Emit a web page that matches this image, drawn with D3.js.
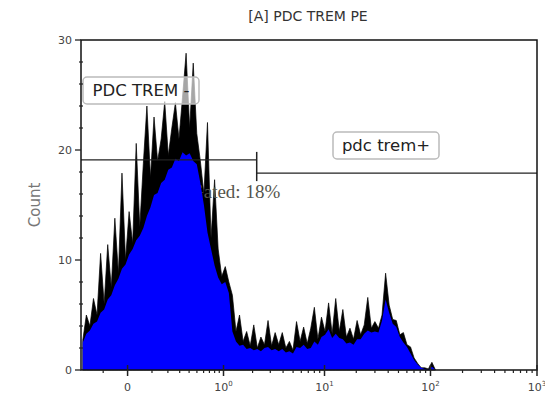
<!DOCTYPE html>
<html>
<head>
<meta charset="utf-8">
<script src="https://d3js.org/d3.v7.min.js"></script>
<style>
  body { margin: 0; background: #fff; }
  svg text { font-family: "DejaVu Sans", sans-serif; }
</style>
</head>
<body>
<div id="Chart"></div>
<script>
// histogram, 128 channels across the display range (only the filled ones listed)
var binCount = 128;
var rawCounts = [2.7, 5.0, 4.0, 6.5, 5.0, 10.6, 6.0, 11.4, 7.5, 13.8,
  8.8, 17.9, 10.0, 14.4, 11.5, 20.6, 13.0, 18.8, 24.0, 17.5,
  23.0, 19.0, 21.0, 24.4, 19.5, 22.0, 24.3, 21.0, 24.8, 28.8,
  22.0, 27.9, 21.5, 19.0, 16.0, 22.5, 12.0, 17.3, 11.0, 8.5,
  9.4, 8.0, 6.8, 3.5, 5.0, 2.6, 3.5, 2.2, 4.1, 2.0,
  3.0, 2.3, 4.5, 2.2, 3.4, 2.3, 3.4, 2.0, 2.6, 1.8,
  4.4, 2.6, 3.9, 2.4, 3.8, 5.7, 2.8, 4.8, 3.5, 6.1,
  3.3, 6.5, 3.5, 5.5, 3.0, 3.8, 2.8, 4.5, 3.2, 4.1,
  6.6, 3.8, 4.4, 3.8, 5.0, 8.8, 5.9, 4.6, 4.5, 3.2,
  3.4, 2.3, 2.1, 1.1, 0.6, 0.2, 0.2, 0.1, 0.7, 0];
var smoothCounts = [2.5, 3.3, 3.6, 4.2, 4.4, 5.2, 5.5, 6.4, 6.8, 7.7,
  8.3, 9.2, 9.6, 10.5, 11.0, 11.8, 12.2, 12.9, 14.0, 14.8,
  15.9, 16.1, 17.0, 17.3, 18.2, 18.4, 19.2, 19.0, 19.8, 19.5,
  19.7, 19.0, 18.7, 17.0, 15.0, 12.5, 11.0, 9.5, 8.4, 7.8,
  8.0, 7.0, 3.5, 2.6, 2.2, 2.3, 1.9, 2.0, 1.8, 1.9,
  1.7, 2.0, 2.1, 1.8, 1.9, 1.7, 1.9, 1.6, 1.7, 1.5,
  2.1, 2.0, 2.3, 1.9, 2.0, 2.6, 2.3, 3.0, 3.2, 3.7,
  2.9, 3.3, 2.9, 2.8, 2.4, 2.5, 2.3, 2.8, 2.8, 3.3,
  3.6, 3.4, 3.5, 3.4, 4.5, 6.4, 5.2, 4.2, 3.9, 3.0,
  2.5, 2.1, 1.5, 0.9, 0.5, 0.2, 0.1, 0, 0.3, 0];

var xMajor = [0, 1, 10, 100, 1000];
var xMajorExp = [null, "0", "1", "2", "3"];
var xMinor = [-0.1, 0.1, 0.2, 0.3, 0.4, 0.5, 0.6, 0.7, 0.8, 0.9,
  2, 3, 4, 5, 6, 7, 8, 9, 20, 30, 40, 50, 60, 70, 80, 90,
  200, 300, 400, 500, 600, 700, 800, 900];
var yMajor = [0, 10, 20, 30];
var yMinor = [2, 4, 6, 8, 12, 14, 16, 18, 22, 24, 26, 28];

// gates: [from, to, count level], labels
var gates = [[-0.25, 2.2, 19.1], [2.2, 1000, 17.9]];
var gateNames = ["PDC TREM -", "pdc trem+"];
var gatedText = "Gated: 18%";

var margin = {top: 40, right: 8, bottom: 27, left: 81},
    W = 545, H = 397,
    width = W - margin.left - margin.right,
    height = H - margin.top - margin.bottom;

var svg = d3.select("#Chart").append("svg")
    .attr("width", W).attr("height", H);

var x = d3.scaleSymlog().constant(0.144)
    .domain([-0.25, 1000])
    .range([margin.left, margin.left + width]);
var y = d3.scaleLinear().domain([0, 30])
    .range([margin.top + height, margin.top]);
var bin = d3.scaleLinear().domain([0, binCount]).range(x.range());

// title
svg.append("text")
    .attr("x", 308).attr("y", 21)
    .attr("text-anchor", "middle")
    .attr("font-size", 14).attr("fill", "#333")
    .text("[A] PDC TREM PE");

// y label
svg.append("text")
    .attr("transform", "translate(40," + y(15) + ") rotate(-90)")
    .attr("text-anchor", "middle")
    .attr("font-size", 15).attr("fill", "#777")
    .text("Count");

var area = d3.area()
    .x(function(d, i) { return bin(i + 0.5); })
    .y0(y(0))
    .y1(function(d) { return y(d); });

svg.append("path")
    .datum(rawCounts)
    .attr("d", area)
    .attr("fill", "#000").attr("stroke", "#000").attr("stroke-width", 0.7);

// gated text: over the raw spikes, under the blue fill
svg.append("text")
    .attr("x", 190).attr("y", 198)
    .attr("font-size", 19).attr("fill", "#55554c")
    .style("font-family", "'Liberation Serif', serif")
    .text(gatedText);

svg.append("path")
    .datum(smoothCounts)
    .attr("d", area)
    .attr("fill", "#0000ff");

// gate lines
gates.forEach(function(g) {
  svg.append("line")
      .attr("x1", x(g[0])).attr("x2", x(g[1]))
      .attr("y1", y(g[2])).attr("y2", y(g[2]))
      .attr("stroke", "#222").attr("stroke-width", 1.3);
});
svg.append("line")
    .attr("x1", x(gates[0][1])).attr("x2", x(gates[0][1]))
    .attr("y1", y(gates[0][2]) - 8).attr("y2", y(gates[1][2]) + 8)
    .attr("stroke", "#222").attr("stroke-width", 1.5);

// gate labels
function label(cx, cy, w, txt) {
  svg.append("rect")
      .attr("x", cx - w / 2).attr("y", cy - 13)
      .attr("width", w).attr("height", 27).attr("rx", 4)
      .attr("fill", "#fff").attr("fill-opacity", 0.65)
      .attr("stroke", "#bbb").attr("stroke-width", 1.5);
  svg.append("text")
      .attr("x", cx).attr("y", cy + 6)
      .attr("text-anchor", "middle")
      .attr("font-size", 16.5).attr("fill", "#222")
      .text(txt);
}
label(141, 90, 116, gateNames[0]);
label(386, 145, 106, gateNames[1]);

// frame
svg.append("rect")
    .attr("x", margin.left).attr("y", margin.top)
    .attr("width", width).attr("height", height)
    .attr("fill", "none").attr("stroke", "#111").attr("stroke-width", 1.5);

// x axis
var gx = svg.append("g").attr("stroke", "#222");
gx.selectAll(".maj").data(xMajor).enter().append("line")
    .attr("x1", function(d) { return x(d); }).attr("x2", function(d) { return x(d); })
    .attr("y1", y(0) - 5).attr("y2", y(0) + 6).attr("stroke-width", 1.5);
gx.selectAll(".min").data(xMinor).enter().append("line")
    .attr("x1", function(d) { return x(d); }).attr("x2", function(d) { return x(d); })
    .attr("y1", y(0)).attr("y2", y(0) + 3).attr("stroke-width", 1.2);

var xl = svg.append("g").attr("fill", "#444").attr("font-size", 11)
    .attr("text-anchor", "middle");
xMajor.forEach(function(d, i) {
  var t = xl.append("text").attr("x", x(d)).attr("y", 391);
  if (xMajorExp[i] === null) {
    t.text("0");
  } else {
    t.append("tspan").text("10");
    t.append("tspan").attr("dy", -5).attr("font-size", 7).text(xMajorExp[i]);
  }
});

// y axis
var gy = svg.append("g").attr("stroke", "#222");
gy.selectAll(".maj").data(yMajor).enter().append("line")
    .attr("x1", margin.left - 6).attr("x2", margin.left)
    .attr("y1", function(d) { return y(d); }).attr("y2", function(d) { return y(d); })
    .attr("stroke-width", 1.3);
gy.selectAll(".min").data(yMinor).enter().append("line")
    .attr("x1", margin.left - 2).attr("x2", margin.left + 2)
    .attr("y1", function(d) { return y(d); }).attr("y2", function(d) { return y(d); })
    .attr("stroke-width", 1.2);
svg.append("g").selectAll("text").data(yMajor).enter().append("text")
    .attr("x", margin.left - 9).attr("y", function(d) { return y(d) + 4; })
    .attr("text-anchor", "end").attr("font-size", 11).attr("fill", "#444")
    .text(function(d) { return d; });
</script>
</body>
</html>
